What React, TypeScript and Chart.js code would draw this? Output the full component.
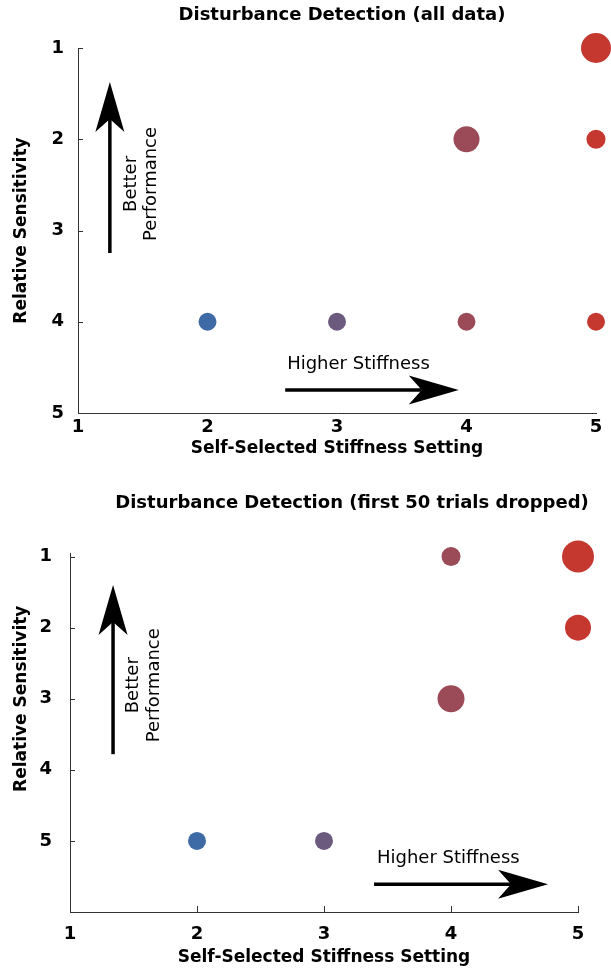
import React, { useEffect, useRef } from "react";
import { Chart, registerables } from "chart.js";

Chart.register(...registerables);

// ---------- data ----------
const topTitle = "Disturbance Detection (all data)";
const topStiffness = [5, 4, 5, 2, 3, 4, 5];
const topRank = [1, 2, 2, 4, 4, 4, 4];
const topSize = [15, 13, 9.5, 9, 9, 9, 9];

const bottomTitle = "Disturbance Detection (first 50 trials dropped)";
const bottomStiffness = [4, 5, 5, 4, 2, 3];
const bottomRank = [1, 1, 2, 3, 5, 5];
const bottomSize = [9.5, 16, 13, 13.5, 9, 9];

const stiffnessLevels = [2, 3, 4, 5];
const stiffnessColors = ["#3e6aa5", "#6b5a7e", "#9b4b57", "#c4382f"];

const xTickValues = [1, 2, 3, 4, 5];
const yTickValues = [1, 2, 3, 4, 5];
const xAxisTitle = "Self-Selected Stiffness Setting";
const yAxisTitle = "Relative Sensitivity";
const upLabel = ["Better", "Performance"];
const rightLabel = "Higher Stiffness";

const FONT = "'DejaVu Sans', Verdana, sans-serif";

type PanelCfg = {
  title: string;
  titleX: number;
  titleY: number;
  xs: number[];
  ys: number[];
  sizes: number[];
  yMin: number;
  yMax: number;
  height: number;
  padTop: number;
  padRight: number;
  yWidth: number;
  xHeight: number;
  yTickPad: number;
  xTickPad: number;
  xTitlePadBottom: number;
  xTickMarks: boolean;
  vArrow: { x: number; y1: number; y2: number };
  vText: { x1: number; x2: number; y: number };
  hArrow: { y: number; x1: number; x2: number };
  hText: { x: number; y: number };
};

const panels: PanelCfg[] = [
  {
    title: topTitle,
    titleX: 342,
    titleY: 15,
    xs: topStiffness,
    ys: topRank,
    sizes: topSize,
    yMin: 1,
    yMax: 5,
    height: 470,
    padTop: 48,
    padRight: 13,
    yWidth: 78,
    xHeight: 57,
    yTickPad: 14,
    xTickPad: 4,
    xTitlePadBottom: 11,
    xTickMarks: false,
    vArrow: { x: 1.246, y1: 3.247, y2: 1.373 },
    vText: { x1: 1.408, x2: 1.569, y: 2.49 },
    hArrow: { y: 4.748, x1: 2.6, x2: 3.94 },
    hText: { x: 2.615, y: 4.463 },
  },
  {
    title: bottomTitle,
    titleX: 352,
    titleY: 33,
    xs: bottomStiffness,
    ys: bottomRank,
    sizes: bottomSize,
    yMin: 0.95,
    yMax: 6,
    height: 500,
    padTop: 83,
    padRight: 33,
    yWidth: 70,
    xHeight: 58,
    yTickPad: 18,
    xTickPad: 12,
    xTitlePadBottom: 2,
    xTickMarks: true,
    vArrow: { x: 1.339, y1: 3.78, y2: 1.4 },
    vText: { x1: 1.496, x2: 1.661, y: 2.81 },
    hArrow: { y: 5.61, x1: 3.394, x2: 4.764 },
    hText: { x: 3.417, y: 5.25 },
  },
];

function drawArrow(
  ctx: CanvasRenderingContext2D,
  x1: number,
  y1: number,
  x2: number,
  y2: number
) {
  const headLen = 50;
  const headW = 29;
  const notch = 13;
  const dx = x2 - x1;
  const dy = y2 - y1;
  const len = Math.hypot(dx, dy);
  const ux = dx / len;
  const uy = dy / len;
  const nx = -uy;
  const ny = ux;
  const bx = x2 - ux * headLen;
  const by = y2 - uy * headLen;
  const mx = x2 - ux * (headLen - notch);
  const my = y2 - uy * (headLen - notch);
  ctx.save();
  ctx.strokeStyle = "#000";
  ctx.fillStyle = "#000";
  ctx.lineWidth = 3.5;
  ctx.beginPath();
  ctx.moveTo(x1, y1);
  ctx.lineTo(mx, my);
  ctx.stroke();
  ctx.beginPath();
  ctx.moveTo(x2, y2);
  ctx.lineTo(bx + (nx * headW) / 2, by + (ny * headW) / 2);
  ctx.lineTo(mx, my);
  ctx.lineTo(bx - (nx * headW) / 2, by - (ny * headW) / 2);
  ctx.closePath();
  ctx.fill();
  ctx.restore();
}

function makeAnnotations(cfg: PanelCfg) {
  return {
    id: "annotations",
    afterDraw(chart: any) {
      const ctx: CanvasRenderingContext2D = chart.ctx;
      const xs = chart.scales.x;
      const ys = chart.scales.y;
      const area = chart.chartArea;
      ctx.save();
      // title
      ctx.fillStyle = "#000";
      ctx.font = `bold 18px ${FONT}`;
      ctx.textAlign = "center";
      ctx.textBaseline = "middle";
      ctx.fillText(cfg.title, cfg.titleX, cfg.titleY);

      // y axis title
      ctx.save();
      ctx.translate(22, ys.getPixelForValue(3));
      ctx.rotate(-Math.PI / 2);
      ctx.font = `bold 17px ${FONT}`;
      ctx.fillText(yAxisTitle, 0, 0);
      ctx.restore();

      // inward tick marks
      ctx.strokeStyle = "#333";
      ctx.lineWidth = 1;
      yTickValues.forEach((v) => {
        const py = Math.round(ys.getPixelForValue(v)) + 0.5;
        ctx.beginPath();
        ctx.moveTo(area.left, py);
        ctx.lineTo(area.left + 5, py);
        ctx.stroke();
      });
      if (cfg.xTickMarks) {
        xTickValues.slice(1).forEach((v) => {
          const px = Math.round(xs.getPixelForValue(v)) + 0.5;
          ctx.beginPath();
          ctx.moveTo(px, area.bottom);
          ctx.lineTo(px, area.bottom - 6);
          ctx.stroke();
        });
      }

      // arrows
      const va = cfg.vArrow;
      drawArrow(
        ctx,
        xs.getPixelForValue(va.x),
        ys.getPixelForValue(va.y1),
        xs.getPixelForValue(va.x),
        ys.getPixelForValue(va.y2)
      );
      const ha = cfg.hArrow;
      drawArrow(
        ctx,
        xs.getPixelForValue(ha.x1),
        ys.getPixelForValue(ha.y),
        xs.getPixelForValue(ha.x2),
        ys.getPixelForValue(ha.y)
      );

      // arrow labels
      ctx.fillStyle = "#000";
      ctx.font = `18px ${FONT}`;
      const vt = cfg.vText;
      [vt.x1, vt.x2].forEach((xv, i) => {
        ctx.save();
        ctx.translate(xs.getPixelForValue(xv), ys.getPixelForValue(vt.y));
        ctx.rotate(-Math.PI / 2);
        ctx.textAlign = "center";
        ctx.textBaseline = "middle";
        ctx.fillText(upLabel[i], 0, 0);
        ctx.restore();
      });
      ctx.textAlign = "left";
      ctx.textBaseline = "middle";
      ctx.fillText(
        rightLabel,
        xs.getPixelForValue(cfg.hText.x),
        ys.getPixelForValue(cfg.hText.y)
      );
      ctx.restore();
    },
  };
}

function Panel({ cfg }: { cfg: PanelCfg }) {
  const ref = useRef<HTMLCanvasElement>(null);
  useEffect(() => {
    if (!ref.current) return;
    const points = cfg.xs.map((x, i) => ({ x, y: cfg.ys[i], r: cfg.sizes[i] }));
    const colors = cfg.xs.map((x) => stiffnessColors[stiffnessLevels.indexOf(x)]);
    const chart = new Chart(ref.current, {
      type: "bubble",
      data: {
        datasets: [
          {
            data: points,
            backgroundColor: colors,
            borderWidth: 0,
            clip: false as any,
          },
        ],
      },
      options: {
        responsive: false,
        animation: false,
        events: [],
        layout: {
          padding: { top: cfg.padTop, right: cfg.padRight, left: 0, bottom: 0 },
        },
        plugins: {
          legend: { display: false },
          tooltip: { enabled: false },
          title: { display: false },
        },
        scales: {
          x: {
            type: "linear",
            min: 1,
            max: 5,
            afterBuildTicks: (s: any) => {
              s.ticks = xTickValues.map((v) => ({ value: v }));
            },
            afterFit: (s: any) => {
              s.height = cfg.xHeight;
            },
            grid: { display: false, drawTicks: false },
            border: { display: true, color: "#333", width: 1 },
            ticks: {
              color: "#000",
              padding: cfg.xTickPad,
              font: { family: FONT, size: 18, weight: "bold" },
              maxRotation: 0,
            },
            title: {
              display: true,
              text: xAxisTitle,
              color: "#000",
              font: { family: FONT, size: 17, weight: "bold" },
              padding: { top: 0, bottom: cfg.xTitlePadBottom },
            },
          },
          y: {
            type: "linear",
            reverse: true,
            min: cfg.yMin,
            max: cfg.yMax,
            afterBuildTicks: (s: any) => {
              s.ticks = yTickValues.map((v) => ({ value: v }));
            },
            afterFit: (s: any) => {
              s.width = cfg.yWidth;
            },
            grid: { display: false, drawTicks: false },
            border: { display: true, color: "#333", width: 1 },
            ticks: {
              color: "#000",
              padding: cfg.yTickPad,
              font: { family: FONT, size: 18, weight: "bold" },
            },
            title: { display: false },
          },
        },
      },
      plugins: [makeAnnotations(cfg)],
    });
    return () => chart.destroy();
  }, [cfg]);
  return (
    <canvas
      ref={ref}
      width={611}
      height={cfg.height}
      style={{ display: "block", width: 611, height: cfg.height }}
    />
  );
}

export default function App() {
  return (
    <div
      style={{
        position: "absolute",
        left: 0,
        top: 0,
        width: 611,
        height: 970,
        background: "#fff",
      }}
    >
      {panels.map((p, i) => (
        <Panel key={i} cfg={p} />
      ))}
    </div>
  );
}
